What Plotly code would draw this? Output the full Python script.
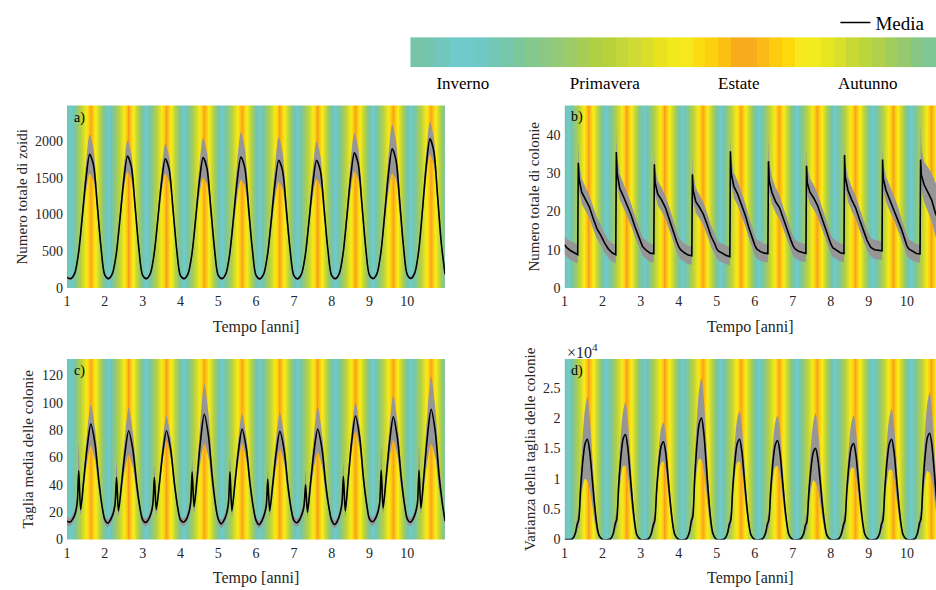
import numpy as np
import plotly.graph_objects as go

# ---------------- data ----------------
years = list(range(1, 11))

# seasonal colour bands of the top colour bar (one year, left to right)
season_colors = [
    "#77c4a6", "#74c5b0", "#72c7bc", "#6fcacc", "#6fcacc", "#70c8c4", "#72c7b8",
    "#76c6aa", "#7cc69c", "#84c78f", "#8cc884", "#93c977", "#9ccb6a", "#a6ce57",
    "#b0d044", "#b8d23e", "#c4d639", "#cfda32", "#dadd2a", "#e8e31d", "#f2e91a",
    "#f5e81c", "#fcdc10", "#fdd00e", "#fcc012", "#f9ab1e", "#f9ab1e", "#fbbb17",
    "#fdcc0e", "#fdd90c", "#f6ea1e", "#f2eb1f", "#e7e520", "#dae02a", "#c8d935",
    "#bdd53c", "#b0d04a", "#a2cd5d", "#96c96f", "#86c785", "#7fc795",
]
season_names = ["Inverno", "Primavera", "Estate", "Autunno"]
season_label_pos = [0.10, 0.37, 0.625, 0.87]

# panel a) total number of zooids
a_offsets = [0.0, 0.1, 0.2, 0.3, 0.4, 0.5, 0.6, 0.7, 0.8, 0.9]
a_mean = [
    [145, 128, 195, 460, 950, 1480, 1816, 1670, 1130, 545],
    [175, 128, 195, 455, 940, 1465, 1794, 1650, 1115, 540],
    [172, 128, 192, 450, 925, 1440, 1758, 1615, 1090, 530],
    [170, 128, 192, 450, 930, 1450, 1772, 1630, 1100, 535],
    [172, 128, 192, 452, 935, 1455, 1781, 1640, 1105, 535],
    [172, 125, 188, 442, 910, 1420, 1736, 1595, 1075, 520],
    [168, 125, 188, 442, 910, 1420, 1736, 1595, 1075, 520],
    [168, 128, 195, 465, 960, 1500, 1839, 1690, 1140, 550],
    [175, 130, 200, 478, 990, 1545, 1893, 1740, 1170, 565],
    [180, 132, 210, 500, 1050, 1650, 2027, 1860, 1255, 605],
]
a_mean_end = 185
a_up = [
    [20, 20, 25, 50, 110, 200, 269, 220, 140, 60],
    [20, 20, 25, 45, 95, 160, 210, 180, 120, 55],
    [20, 20, 25, 45, 90, 155, 202, 170, 115, 50],
    [20, 20, 25, 50, 110, 200, 268, 220, 140, 60],
    [20, 20, 25, 55, 130, 250, 336, 270, 170, 70],
    [20, 20, 25, 55, 125, 235, 314, 255, 160, 65],
    [20, 20, 25, 50, 105, 190, 254, 210, 135, 60],
    [20, 20, 25, 50, 110, 200, 268, 220, 140, 60],
    [20, 20, 25, 55, 130, 245, 326, 265, 165, 70],
    [20, 20, 25, 45, 100, 175, 228, 190, 125, 55],
]
a_dn = [
    [20, 20, 25, 50, 105, 195, 259, 210, 135, 55],
    [20, 20, 25, 45, 95, 160, 210, 175, 115, 50],
    [20, 20, 25, 45, 90, 155, 201, 170, 110, 50],
    [20, 20, 25, 50, 110, 200, 269, 220, 140, 60],
    [20, 20, 25, 55, 125, 235, 314, 255, 160, 65],
    [20, 20, 25, 55, 120, 225, 300, 245, 155, 65],
    [20, 20, 25, 50, 105, 190, 255, 210, 135, 60],
    [20, 20, 25, 50, 105, 190, 255, 210, 135, 60],
    [20, 20, 25, 55, 130, 250, 336, 270, 170, 70],
    [20, 20, 25, 45, 95, 165, 211, 180, 120, 55],
]
a_spread_end = 20

# panel b) total number of colonies
b_offsets = [0.0, 0.05, 0.15, 0.25, 0.345, 0.36, 0.38, 0.45, 0.55, 0.65, 0.75, 0.85, 0.95]
b_mean = [
    [11.3, 10.6, 9.8, 9.2, 8.7, 32.7, 28.5, 25.0, 23.0, 21.2, 18.2, 15.5, 13.8],
    [12.6, 11.8, 10.2, 9.2, 8.7, 35.5, 30.0, 26.0, 23.8, 21.5, 19.0, 16.0, 13.2],
    [11.8, 10.8, 9.8, 9.1, 9.0, 32.3, 27.5, 24.5, 23.0, 21.0, 18.0, 14.8, 12.0],
    [10.8, 10.0, 9.2, 8.6, 8.4, 29.7, 25.5, 22.5, 21.0, 19.2, 16.5, 13.5, 11.5],
    [10.2, 9.6, 9.0, 8.5, 8.2, 35.7, 30.0, 26.5, 24.5, 22.0, 19.0, 15.5, 12.5],
    [11.2, 10.2, 9.5, 9.1, 9.0, 33.1, 28.0, 25.0, 22.5, 21.0, 18.0, 15.0, 12.5],
    [11.2, 10.3, 9.6, 9.2, 9.0, 31.9, 27.5, 25.0, 23.5, 21.5, 18.5, 15.5, 12.8],
    [11.5, 10.5, 9.8, 9.2, 9.0, 34.7, 29.0, 25.5, 23.0, 21.0, 18.0, 15.0, 12.5],
    [11.5, 10.6, 10.0, 9.8, 9.7, 33.5, 28.5, 25.5, 23.0, 21.0, 18.5, 15.5, 12.5],
    [11.0, 10.2, 9.5, 9.0, 8.9, 33.5, 29.5, 27.0, 25.0, 23.0, 19.5, 17.5, 15.5],
]
b_mean_end = 13.5
b_up = [
    [2.3, 2.4, 2.5, 2.5, 2.5, 5.6, 4.2, 3.5, 3.3, 3.0, 3.1, 2.9, 2.7],
    [2.6, 2.5, 2.4, 2.5, 2.6, 5.6, 4.5, 3.8, 3.4, 3.2, 3.0, 2.8, 2.6],
    [2.6, 2.5, 2.5, 2.4, 2.5, 3.4, 3.5, 3.4, 3.2, 3.0, 3.2, 2.9, 2.7],
    [2.5, 2.5, 2.4, 2.4, 2.5, 4.8, 4.0, 3.6, 3.3, 3.1, 3.0, 2.8, 2.6],
    [2.5, 2.4, 2.4, 2.5, 2.5, 3.4, 3.6, 3.6, 3.4, 3.2, 3.1, 2.9, 2.7],
    [2.6, 2.5, 2.5, 2.4, 2.5, 6.9, 5.0, 4.0, 3.6, 3.3, 3.1, 2.9, 2.7],
    [2.5, 2.5, 2.4, 2.4, 2.5, 4.7, 4.0, 3.6, 3.4, 3.2, 3.0, 2.8, 2.6],
    [2.5, 2.5, 2.5, 2.4, 2.5, 3.6, 3.6, 3.5, 3.3, 3.1, 3.0, 2.8, 2.6],
    [2.5, 2.5, 2.5, 2.5, 2.5, 3.9, 3.8, 3.6, 3.4, 3.2, 3.1, 2.9, 2.7],
    [2.6, 2.5, 2.5, 2.5, 2.5, 9.1, 7.0, 6.0, 6.5, 7.0, 8.0, 8.5, 9.0],
]
b_dn = [
    [2.5, 2.4, 2.4, 2.3, 2.3, 3.0, 3.0, 3.0, 3.0, 2.9, 2.8, 2.7, 2.6],
    [2.6, 2.5, 2.4, 2.3, 2.3, 3.2, 3.1, 3.0, 2.9, 2.9, 2.8, 2.7, 2.6],
    [2.5, 2.4, 2.3, 2.3, 2.3, 2.9, 3.0, 3.0, 3.0, 2.9, 2.8, 2.7, 2.6],
    [2.5, 2.4, 2.4, 2.3, 2.3, 3.0, 3.0, 2.9, 2.9, 2.8, 2.8, 2.7, 2.6],
    [2.5, 2.4, 2.4, 2.3, 2.3, 3.2, 3.1, 3.0, 3.0, 2.9, 2.8, 2.7, 2.6],
    [2.6, 2.5, 2.4, 2.3, 2.3, 3.0, 3.0, 3.0, 2.9, 2.9, 2.8, 2.7, 2.6],
    [2.5, 2.4, 2.4, 2.3, 2.3, 3.0, 3.0, 3.0, 3.0, 2.9, 2.8, 2.7, 2.6],
    [2.5, 2.4, 2.4, 2.3, 2.3, 3.1, 3.0, 3.0, 3.0, 2.9, 2.8, 2.7, 2.6],
    [2.5, 2.4, 2.4, 2.3, 2.3, 3.0, 3.0, 3.0, 3.0, 2.9, 2.8, 2.7, 2.6],
    [2.5, 2.4, 2.4, 2.3, 2.3, 3.5, 4.0, 4.5, 5.0, 5.5, 6.0, 6.5, 7.0],
]
b_spread_end = 7.0

# panel c) mean colony size
c_offsets = [0.0, 0.08, 0.15, 0.22, 0.27, 0.31, 0.36, 0.44, 0.53, 0.63, 0.74, 0.84, 0.93]
c_mean = [
    [13.5, 12.8, 15.0, 19.5, 27, 50.3, 22, 43, 67, 84.4, 70, 43, 24],
    [14.5, 12.0, 14.5, 19.0, 26, 45.5, 21, 40, 63, 79.6, 66, 41, 23],
    [14.5, 12.5, 14.5, 19.0, 26, 45.5, 22, 40, 63, 79.6, 66, 41, 23],
    [14.5, 12.7, 14.5, 19.5, 27, 49.5, 24, 45, 72, 91.6, 76, 46, 25],
    [15.0, 11.5, 14.0, 19.0, 27, 49.5, 21, 41, 64, 80.8, 67, 41, 23],
    [14.0, 10.8, 13.5, 18.5, 25, 44.3, 21, 40, 63, 79.1, 66, 40, 22],
    [14.0, 12.3, 14.5, 19.0, 25, 40.0, 20, 41, 64, 80.8, 67, 41, 23],
    [14.0, 11.0, 13.5, 19.0, 26, 46.0, 21, 45, 72, 90.4, 75, 45, 25],
    [15.0, 13.0, 15.0, 20.0, 27, 50.7, 23, 45, 71, 89.7, 74, 45, 25],
    [15.0, 12.7, 15.0, 20.0, 27, 50.7, 23, 47, 75, 95.2, 79, 47, 26],
]
c_mean_end = 13.5
c_up = [
    [3, 3, 3, 4, 6, 19.7, 5, 7, 11, 14.4, 12, 8, 4],
    [3, 3, 3, 4, 5, 11.5, 5, 7, 12, 16.8, 13, 8, 4],
    [3, 3, 3, 4, 5, 8.5, 5, 6, 9, 10.8, 9, 6, 4],
    [3, 3, 3, 4, 5, 8.5, 5, 8, 15, 22.2, 17, 10, 5],
    [3, 3, 3, 4, 5, 9.5, 5, 6, 9, 11.2, 9, 6, 4],
    [3, 3, 3, 4, 5, 6.7, 5, 7, 11, 13.7, 11, 7, 4],
    [3, 3, 3, 4, 5, 10, 5, 7, 12, 16.1, 12, 8, 4],
    [3, 3, 3, 4, 5, 10, 5, 6, 8, 9.6, 8, 6, 4],
    [3, 3, 3, 4, 6, 16.3, 5, 7, 12, 15.6, 12, 8, 4],
    [3, 3, 3, 4, 6, 18.3, 6, 9, 17, 24.1, 18, 11, 5],
]
c_dn = [
    [3, 3, 3, 3, 4, 8, 4, 7, 11, 15.6, 12, 7, 3],
    [3, 3, 3, 3, 4, 7, 4, 7, 12, 17.3, 13, 8, 3],
    [3, 3, 3, 3, 4, 7, 4, 5, 6, 7.2, 6, 5, 3],
    [3, 3, 3, 3, 4, 8, 4, 8, 15, 21.6, 16, 9, 4],
    [3, 3, 3, 3, 4, 7, 4, 6, 8, 10.8, 9, 6, 3],
    [3, 3, 3, 3, 4, 7, 4, 7, 10, 12.7, 10, 7, 3],
    [3, 3, 3, 3, 4, 6, 4, 7, 12, 16.8, 13, 8, 3],
    [3, 3, 3, 3, 4, 7, 4, 6, 8, 10.8, 9, 6, 3],
    [3, 3, 3, 3, 4, 8, 4, 7, 12, 16.8, 13, 8, 3],
    [3, 3, 3, 3, 4, 8, 4, 10, 18, 25.2, 19, 11, 4],
]
c_spread_end = 3

# panel d) variance of colony size (units of 10^4)
d_offsets = [0.0, 0.2, 0.28, 0.33, 0.37, 0.42, 0.48, 0.54, 0.6, 0.66, 0.72, 0.78, 0.84, 0.9]
d_mean = [
    [0, 0.01, 0.10, 0.25, 0.32, 0.83, 1.30, 1.58, 1.65, 1.45, 1.05, 0.62, 0.28, 0.08],
    [0, 0.01, 0.10, 0.26, 0.33, 0.87, 1.36, 1.66, 1.73, 1.52, 1.10, 0.65, 0.29, 0.08],
    [0, 0.01, 0.10, 0.24, 0.31, 0.81, 1.27, 1.54, 1.61, 1.42, 1.02, 0.60, 0.27, 0.08],
    [0, 0.01, 0.12, 0.30, 0.38, 1.00, 1.57, 1.91, 2.00, 1.75, 1.27, 0.75, 0.34, 0.10],
    [0, 0.01, 0.10, 0.25, 0.32, 0.83, 1.30, 1.58, 1.65, 1.45, 1.05, 0.62, 0.28, 0.08],
    [0, 0.01, 0.10, 0.25, 0.32, 0.82, 1.29, 1.56, 1.63, 1.44, 1.04, 0.61, 0.28, 0.08],
    [0, 0.01, 0.09, 0.23, 0.29, 0.75, 1.18, 1.44, 1.50, 1.32, 0.96, 0.56, 0.25, 0.07],
    [0, 0.01, 0.10, 0.24, 0.31, 0.80, 1.25, 1.52, 1.58, 1.39, 1.01, 0.60, 0.27, 0.08],
    [0, 0.01, 0.10, 0.25, 0.32, 0.83, 1.30, 1.58, 1.65, 1.45, 1.05, 0.62, 0.28, 0.08],
    [0, 0.01, 0.11, 0.27, 0.34, 0.88, 1.38, 1.68, 1.75, 1.54, 1.11, 0.66, 0.30, 0.08],
]
d_mean_end = 0.0
d_up = [
    [0, 0.01, 0.05, 0.12, 0.15, 0.30, 0.45, 0.58, 0.69, 0.58, 0.42, 0.26, 0.12, 0.04],
    [0, 0.01, 0.05, 0.12, 0.15, 0.25, 0.38, 0.46, 0.53, 0.46, 0.35, 0.22, 0.10, 0.03],
    [0, 0.01, 0.05, 0.10, 0.12, 0.18, 0.25, 0.30, 0.32, 0.30, 0.24, 0.16, 0.08, 0.03],
    [0, 0.01, 0.05, 0.12, 0.15, 0.30, 0.45, 0.57, 0.66, 0.57, 0.42, 0.26, 0.12, 0.04],
    [0, 0.01, 0.05, 0.12, 0.14, 0.22, 0.33, 0.41, 0.46, 0.41, 0.31, 0.20, 0.10, 0.03],
    [0, 0.01, 0.05, 0.11, 0.13, 0.20, 0.30, 0.37, 0.41, 0.37, 0.28, 0.18, 0.09, 0.03],
    [0, 0.01, 0.05, 0.12, 0.15, 0.26, 0.40, 0.50, 0.58, 0.50, 0.37, 0.23, 0.11, 0.04],
    [0, 0.01, 0.05, 0.12, 0.14, 0.22, 0.33, 0.41, 0.46, 0.41, 0.31, 0.20, 0.10, 0.03],
    [0, 0.01, 0.05, 0.12, 0.15, 0.24, 0.35, 0.44, 0.50, 0.44, 0.33, 0.21, 0.10, 0.03],
    [0, 0.01, 0.05, 0.12, 0.15, 0.30, 0.45, 0.58, 0.67, 0.58, 0.42, 0.26, 0.12, 0.04],
]
d_dn = [
    [0, 0.01, 0.05, 0.10, 0.12, 0.25, 0.42, 0.58, 0.69, 0.60, 0.45, 0.30, 0.15, 0.05],
    [0, 0.01, 0.05, 0.10, 0.12, 0.22, 0.35, 0.45, 0.52, 0.45, 0.34, 0.22, 0.11, 0.04],
    [0, 0.01, 0.04, 0.08, 0.10, 0.15, 0.22, 0.28, 0.32, 0.28, 0.22, 0.15, 0.08, 0.03],
    [0, 0.01, 0.05, 0.10, 0.12, 0.25, 0.42, 0.58, 0.69, 0.60, 0.45, 0.30, 0.15, 0.05],
    [0, 0.01, 0.04, 0.09, 0.11, 0.17, 0.25, 0.31, 0.36, 0.31, 0.24, 0.16, 0.08, 0.03],
    [0, 0.01, 0.05, 0.10, 0.12, 0.19, 0.28, 0.36, 0.42, 0.36, 0.28, 0.18, 0.09, 0.03],
    [0, 0.01, 0.05, 0.10, 0.12, 0.23, 0.36, 0.47, 0.56, 0.48, 0.36, 0.23, 0.11, 0.04],
    [0, 0.01, 0.05, 0.10, 0.12, 0.18, 0.27, 0.34, 0.40, 0.34, 0.26, 0.17, 0.09, 0.03],
    [0, 0.01, 0.05, 0.10, 0.12, 0.21, 0.33, 0.43, 0.50, 0.43, 0.33, 0.21, 0.10, 0.03],
    [0, 0.01, 0.05, 0.10, 0.12, 0.25, 0.40, 0.55, 0.65, 0.56, 0.42, 0.27, 0.13, 0.04],
]
d_spread_end = 0.0

panel_titles = ["Numero totale di zoidi", "Numero totale di colonie",
                "Taglia media delle colonie", "Varianza della taglia delle colonie"]
panel_tags = ["a)", "b)", "c)", "d)"]
x_title = "Tempo [anni]"
x_ticks = list(range(1, 11))

# ---------------- helpers ----------------
W, H = 936, 590
FONT = "Liberation Serif, Times New Roman, serif"
TXT = "#262626"


def px_x(p):
    return p / W


def px_y(p):
    return 1 - p / H


def flatten(offsets, rows, end_val, x_end=11.0):
    xs, ys = [], []
    for yr, row in zip(years, rows):
        for o, v in zip(offsets, row):
            xs.append(yr + o)
            ys.append(v)
    xs.append(x_end)
    ys.append(end_val)
    return np.array(xs), np.array(ys, dtype=float)


n = len(season_colors)
stops = [[0.0, "#7ac6a0"]]
for k, c in enumerate(season_colors):
    stops.append([(k + 0.5) / n, c])
stops.append([1.0, "#7ac6a0"])
# background uses a slightly deeper orange core in summer, as in the plots
bg_stops = sorted(stops + [[0.625, "#f5981c"]], key=lambda s: s[0])

fig = go.Figure()

panels = [
    dict(off=a_offsets, mean=a_mean, mend=a_mean_end, up=a_up, dn=a_dn, send=a_spread_end,
         ymax=2480, shape="spline", xmax=11.0, ticks=[0, 500, 1000, 1500, 2000], ttext=None),
    dict(off=b_offsets, mean=b_mean, mend=b_mean_end, up=b_up, dn=b_dn, send=b_spread_end,
         ymax=47.6, shape="linear", xmax=10.765, ticks=[0, 10, 20, 30, 40], ttext=None),
    dict(off=c_offsets, mean=c_mean, mend=c_mean_end, up=c_up, dn=c_dn, send=c_spread_end,
         ymax=132, shape="spline", xmax=11.0, ticks=[0, 20, 40, 60, 80, 100, 120], ttext=None),
    dict(off=d_offsets, mean=d_mean, mend=d_mean_end, up=d_up, dn=d_dn, send=d_spread_end,
         ymax=2.97, shape="spline", xmax=10.765, ticks=[0, 0.5, 1, 1.5, 2, 2.5],
         ttext=["0", "0.5", "1", "1.5", "2", "2.5"]),
]

bg_x = np.arange(1.0, 11.0001, 0.004)
bg_phase = bg_x - np.floor(bg_x)

for i, p in enumerate(panels):
    ax = "" if i == 0 else str(i + 1)
    xr, yr = "x" + ax, "y" + ax
    fig.add_trace(go.Heatmap(x=bg_x, y=[0, p["ymax"]], z=[bg_phase, bg_phase],
                             colorscale=bg_stops, zmin=0, zmax=1, showscale=False,
                             hoverinfo="skip", xaxis=xr, yaxis=yr))
    xs, ym = flatten(p["off"], p["mean"], p["mend"])
    _, su = flatten(p["off"], p["up"], p["send"])
    _, sd = flatten(p["off"], p["dn"], p["send"])
    lower = np.maximum(ym - sd, 0)
    upper = ym + su
    fig.add_trace(go.Scatter(x=xs, y=lower, mode="lines",
                             line=dict(width=0, shape=p["shape"], smoothing=0.8),
                             showlegend=False, hoverinfo="skip", xaxis=xr, yaxis=yr))
    fig.add_trace(go.Scatter(x=xs, y=upper, mode="lines", fill="tonexty",
                             fillcolor="rgb(150,150,150)",
                             line=dict(width=0, shape=p["shape"], smoothing=0.8),
                             showlegend=False, hoverinfo="skip", xaxis=xr, yaxis=yr))
    fig.add_trace(go.Scatter(x=xs, y=ym, mode="lines", name="Media",
                             line=dict(color="black", width=1.6, shape=p["shape"], smoothing=0.8),
                             showlegend=(i == 0), xaxis=xr, yaxis=yr))

# colour bar on top
cb_x = [(k + 0.5) / n for k in range(n)]
fig.add_trace(go.Heatmap(x=cb_x, y=[0, 1], z=[cb_x, cb_x], colorscale=stops, zmin=0, zmax=1,
                         showscale=False, hoverinfo="skip", xaxis="x5", yaxis="y5"))

left_dom = [px_x(63.3), px_x(443)]
right_dom = [px_x(563), 1.0]
top_dom = [px_y(292), px_y(107)]
bot_dom = [px_y(547), px_y(364)]

common_x = dict(showgrid=False, zeroline=False, showline=False, ticks="",
                tickvals=x_ticks, ticklabelstandoff=3,
                tickfont=dict(family=FONT, size=14, color=TXT),
                title=dict(text=x_title, font=dict(family=FONT, size=16, color=TXT), standoff=12))
common_y = dict(showgrid=False, zeroline=False, showline=False, ticks="", ticklabelstandoff=3,
                tickfont=dict(family=FONT, size=14, color=TXT))

lay = {}
doms = [(left_dom, top_dom), (right_dom, top_dom), (left_dom, bot_dom), (right_dom, bot_dom)]
standoffs = [3, 3, 4, 3]
for i, p in enumerate(panels):
    ax = "" if i == 0 else str(i + 1)
    lay["xaxis" + ax] = dict(common_x, domain=doms[i][0], anchor="y" + ax, range=[1, p["xmax"]])
    yd = dict(common_y, domain=doms[i][1], anchor="x" + ax, range=[0, p["ymax"]],
              tickvals=p["ticks"],
              title=dict(text=panel_titles[i], font=dict(family=FONT, size=15, color=TXT),
                         standoff=standoffs[i]))
    if p["ttext"]:
        yd["ticktext"] = p["ttext"]
    lay["yaxis" + ax] = yd

lay["xaxis5"] = dict(domain=[px_x(408), 1.0], anchor="y5", range=[0, 1], showgrid=False,
                     zeroline=False, showline=False, ticks="", tickvals=season_label_pos,
                     ticktext=season_names, ticklabelstandoff=4,
                     tickfont=dict(family=FONT, size=17, color="black"))
lay["yaxis5"] = dict(domain=[px_y(68.3), px_y(37.7)], anchor="x5", range=[-0.5, 1.5],
                     visible=False)

annotations = []
tag_pos = [(68, 120), (567, 119), (68, 376), (567, 376)]
for t, (xp, yp) in zip(panel_tags, tag_pos):
    annotations.append(dict(text=t, x=px_x(xp), y=px_y(yp), xref="paper", yref="paper",
                            xanchor="left", yanchor="middle", showarrow=False,
                            font=dict(family=FONT, size=14, color="black")))
annotations.append(dict(text="×10<sup>4</sup>", x=px_x(563), y=px_y(356), xref="paper",
                        yref="paper", xanchor="left", yanchor="middle", showarrow=False,
                        font=dict(family=FONT, size=16, color=TXT)))

fig.update_layout(
    width=W, height=H, margin=dict(l=0, r=0, t=0, b=0),
    paper_bgcolor="white", plot_bgcolor="white", hovermode=False,
    font=dict(family=FONT, color=TXT),
    showlegend=True,
    legend=dict(x=0.994, xanchor="right", y=px_y(23), yanchor="middle",
                bgcolor="rgba(0,0,0,0)", font=dict(family=FONT, size=19, color="black"),
                itemwidth=30, tracegroupgap=0),
    annotations=annotations,
    **lay,
)

fig.write_html("out.html")
